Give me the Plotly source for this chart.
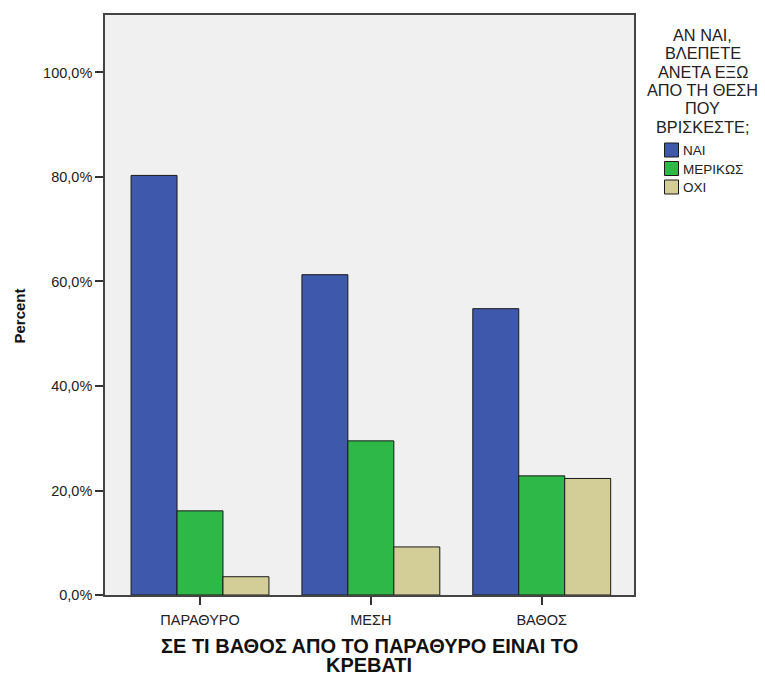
import plotly.graph_objects as go

# Categories (x axis) and response groups
categories = ["ΠΑΡΑΘΥΡΟ", "ΜΕΣΗ", "ΒΑΘΟΣ"]
groups = ["ΝΑΙ", "ΜΕΡΙΚΩΣ", "ΟΧΙ"]

# Percent values per response group, one per category
nai = [80.3, 61.3, 54.8]
merikos = [16.1, 29.5, 22.8]
oxi = [3.5, 9.2, 22.3]

colors = ["#3e58ab", "#2eb848", "#d3ce97"]

y_ticks = [0, 20, 40, 60, 80, 100]
y_tick_text = ["0,0%", "20,0%", "40,0%", "60,0%", "80,0%", "100,0%"]

x_title_lines = ["ΣΕ ΤΙ ΒΑΘΟΣ ΑΠΟ ΤΟ ΠΑΡΑΘΥΡΟ ΕΙΝΑΙ ΤΟ", "ΚΡΕΒΑΤΙ"]
legend_title_lines = ["ΑΝ ΝΑΙ,", "ΒΛΕΠΕΤΕ", "ΑΝΕΤΑ ΕΞΩ", "ΑΠΟ ΤΗ ΘΕΣΗ", "ΠΟΥ", "ΒΡΙΣΚΕΣΤΕ;"]

FONT = "Liberation Sans, Arial, sans-serif"

W, H = 765, 673
ML, MR, MT, MB = 105, 131, 15, 78
PW, PH = W - ML - MR, H - MT - MB


def px_x(px):
    """Page pixel column -> paper x."""
    return (px - ML) / PW


def px_y(py):
    """Page pixel row -> paper y."""
    return (H - MB - py) / PH


fig = go.Figure()
for name, vals, col in zip(groups, [nai, merikos, oxi], colors):
    fig.add_trace(go.Bar(
        x=list(range(len(categories))),
        y=vals,
        name=name,
        marker=dict(color=col, line=dict(color="#1a1a1a", width=1)),
        showlegend=False,
    ))

fig.update_layout(
    width=W,
    height=H,
    barmode="group",
    bargap=0.193,
    bargroupgap=0,
    paper_bgcolor="white",
    plot_bgcolor="#f0f0f0",
    margin=dict(l=ML, r=MR, t=MT, b=MB),
    font=dict(family=FONT, size=14.5, color="#222"),
)

fig.update_xaxes(
    range=[-0.556, 2.54],
    tickvals=list(range(len(categories))),
    ticktext=categories,
    tickfont=dict(size=14.5),
    ticklabelstandoff=3,
    ticks="outside", ticklen=8, tickwidth=1.5, tickcolor="#333",
    showline=True, linecolor="#444", linewidth=1.6, mirror=True,
    showgrid=False, zeroline=False, automargin=False,
)

fig.update_yaxes(
    range=[0, 111],
    tickvals=y_ticks,
    ticktext=y_tick_text,
    tickfont=dict(size=14.5),
    ticks="outside", ticklen=8, tickwidth=1.5, tickcolor="#333",
    showline=True, linecolor="#444", linewidth=1.6, mirror=True,
    showgrid=False, zeroline=False, automargin=False,
)

# Axis titles
for i, line in enumerate(x_title_lines):
    fig.add_annotation(
        xref="paper", yref="paper", x=px_x(369), y=px_y(646 + 18.5 * i),
        xanchor="center", yanchor="middle", showarrow=False,
        text=f"<b>{line}</b>", font=dict(size=20, color="#111"),
    )
fig.add_annotation(
    xref="paper", yref="paper", x=px_x(18.5), y=px_y(316),
    xanchor="center", yanchor="middle", showarrow=False, textangle=-90,
    text="<b>Percent</b>", font=dict(size=15, color="#111"),
)

# Legend heading, one line at a time
for i, line in enumerate(legend_title_lines):
    fig.add_annotation(
        xref="paper", yref="paper", x=px_x(702.5), y=px_y(35 + 18.35 * i),
        xanchor="center", yanchor="middle", showarrow=False,
        text=line, font=dict(size=16.3, color="#222"),
    )

# Legend entries: colour swatch + label
for i, (name, col) in enumerate(zip(groups, colors)):
    top = 143 + 18.5 * i
    fig.add_shape(
        type="rect", xref="paper", yref="paper",
        x0=px_x(664.5), x1=px_x(678.5), y0=px_y(top + 14), y1=px_y(top),
        fillcolor=col, line=dict(color="#1a1a1a", width=1),
    )
    fig.add_annotation(
        xref="paper", yref="paper", x=px_x(680.5), y=px_y(top + 7.5),
        xanchor="left", yanchor="middle", showarrow=False,
        text=name, font=dict(size=13.5, color="#222"),
    )

fig.write_html("out.html")
